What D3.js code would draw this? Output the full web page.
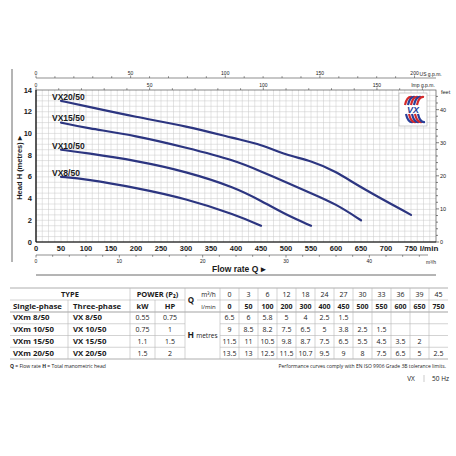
<!DOCTYPE html>
<html>
  <head>
    <meta http-equiv="Content-Type" content="text/html; charset=utf-8" />
    <style>
    body { margin: 0; background: #fff; }
    svg text { font-family: "Liberation Sans Narrow", "Liberation Sans", sans-serif; fill: #1a1a1a; }
    .tbl text { font-family: "Open Sans", "Liberation Sans", sans-serif; }
    </style>
  </head>
  <body>
    <div id="chart"></div>
    <script src="https://d3js.org/d3.v7.min.js"></script>
    <script>

// flow points, l/min and m3/h
const flowLmin = [0, 50, 100, 200, 300, 400, 450, 500, 550, 600, 650, 750];
const flowM3h = [0, 3, 6, 12, 18, 24, 27, 30, 33, 36, 39, 45];

// pump models
const models = ["VX8/50", "VX10/50", "VX15/50", "VX20/50"];
const singlePhase = ["VXm 8/50", "VXm 10/50", "VXm 15/50", "VXm 20/50"];
const threePhase = ["VX 8/50", "VX 10/50", "VX 15/50", "VX 20/50"];
const powerKW = ["0.55", "0.75", "1.1", "1.5"];
const powerHP = ["0.75", "1", "1.5", "2"];

// head in metres, one array per model (null = not reached)
const head8 = [6.5, 6, 5.8, 5, 4, 2.5, 1.5, null, null, null, null, null];
const head10 = [9, 8.5, 8.2, 7.5, 6.5, 5, 3.8, 2.5, 1.5, null, null, null];
const head15 = [11.5, 11, 10.5, 9.8, 8.7, 7.5, 6.5, 5.5, 4.5, 3.5, 2, null];
const head20 = [13.5, 13, 12.5, 11.5, 10.7, 9.5, 9, 8, 7.5, 6.5, 5, 2.5];
const heads = [head8, head10, head15, head20];

// axis ticks
const lminTicks = d3.range(0, 751, 50);
const headTicks = d3.range(0, 15, 2);
const feetTicks = [0, 10, 20, 30, 40];
const usTicks = [0, 50, 100, 150, 200];
const impTicks = [0, 50, 100, 150];
const m3Ticks = [0, 10, 20, 30, 40];

const width = 456, height = 456;
const L = 36, R = 436, T = 90, B = 242;
const navy = "#2c3580";

const svg = d3.select("#chart").append("svg")
    .attr("width", width)
    .attr("height", height);

const x = d3.scaleLinear().domain([0, 800]).range([L, R]);
const y = d3.scaleLinear().domain([0, 14]).range([B, T]);
const yFt = d3.scaleLinear().domain([0, 14 * 3.2808]).range([B, T]);
const xUS = d3.scaleLinear().domain([0, 800 / 3.7854]).range([L, R]);
const xImp = d3.scaleLinear().domain([0, 800 / 4.546]).range([L, R]);
const xM3 = d3.scaleLinear().domain([0, 48]).range([L, R]);

// grid
const grid = svg.append("g").attr("stroke", "#c8c8c8").attr("stroke-width", 0.5);
grid.selectAll(".gv").data(d3.range(12.5, 800, 12.5)).enter().append("line")
    .attr("x1", d => x(d)).attr("x2", d => x(d)).attr("y1", T).attr("y2", B);
grid.selectAll(".gh").data(d3.range(0.5, 14, 0.5)).enter().append("line")
    .attr("x1", L).attr("x2", R).attr("y1", d => y(d)).attr("y2", d => y(d));

// frame
svg.append("rect").attr("x", L).attr("y", T).attr("width", R - L).attr("height", B - T)
    .attr("fill", "none").attr("stroke", "#555").attr("stroke-width", 0.7);
svg.append("line").attr("x1", L).attr("x2", L).attr("y1", T).attr("y2", B)
    .attr("stroke", "#111").attr("stroke-width", 1.2);
svg.append("line").attr("x1", L).attr("x2", R).attr("y1", B).attr("y2", B)
    .attr("stroke", "#111").attr("stroke-width", 1.2);
svg.append("line").attr("x1", 12).attr("x2", 12).attr("y1", 69).attr("y2", 262)
    .attr("stroke", "#444").attr("stroke-width", 0.8);
svg.append("line").attr("x1", L).attr("x2", R).attr("y1", 275).attr("y2", 275)
    .attr("stroke", "#444").attr("stroke-width", 0.8);

// bottom l/min labels
svg.append("g").selectAll("text").data(lminTicks).enter().append("text")
    .attr("x", d => x(d)).attr("y", 250.5)
    .attr("text-anchor", "middle").attr("font-size", 7.5).attr("font-weight", "bold")
    .text(d => d);
svg.append("text").attr("x", 429).attr("y", 250.5).attr("text-anchor", "middle")
    .attr("font-size", 8).attr("font-weight", "bold").text("l/min");

// left head labels
svg.append("g").selectAll("text").data(headTicks).enter().append("text")
    .attr("x", 32).attr("y", d => y(d) + 2.6)
    .attr("text-anchor", "end").attr("font-size", 7.5).attr("font-weight", "bold")
    .text(d => d);
svg.append("text").attr("transform", "translate(22,168) rotate(-90)")
    .attr("text-anchor", "middle").attr("font-size", 7.5).attr("font-weight", "bold")
    .attr("font-family", "Open Sans, sans-serif")
    .text("Head H (metres) \u25B8");

// right feet axis
const ft = svg.append("g").attr("stroke", "#333").attr("stroke-width", 0.6);
ft.selectAll("line").data(d3.range(0, 46, 2)).enter().append("line")
    .attr("x1", R).attr("x2", d => R + (d % 10 === 0 ? 3 : 2))
    .attr("y1", d => yFt(d)).attr("y2", d => yFt(d));
svg.append("g").selectAll("text").data(feetTicks).enter().append("text")
    .attr("x", R + 4).attr("y", d => yFt(d) + 2)
    .attr("font-size", 5.5).text(d => d);
svg.append("text").attr("x", 441).attr("y", 94).attr("font-size", 5.5).text("feet");

// top US g.p.m. axis
const usY = 78;
svg.append("line").attr("x1", L).attr("x2", R).attr("y1", usY).attr("y2", usY)
    .attr("stroke", "#444").attr("stroke-width", 0.6);
svg.append("g").attr("stroke", "#444").attr("stroke-width", 0.6)
  .selectAll("line").data(d3.range(0, 201, 10)).enter().append("line")
    .attr("x1", d => xUS(d)).attr("x2", d => xUS(d))
    .attr("y1", usY).attr("y2", d => usY - (d % 50 === 0 ? 2.5 : 1.8));
svg.append("g").selectAll("text").data(usTicks).enter().append("text")
    .attr("x", d => xUS(d)).attr("y", 74.5).attr("text-anchor", "middle")
    .attr("font-size", 5).text(d => d);
svg.append("text").attr("x", xUS(200) + 5).attr("y", 75.5)
    .attr("font-size", 5).text("US g.p.m.");

// top Imp g.p.m. axis (on plot top)
svg.append("g").attr("stroke", "#444").attr("stroke-width", 0.6)
  .selectAll("line").data(d3.range(0, 171, 10)).enter().append("line")
    .attr("x1", d => xImp(d)).attr("x2", d => xImp(d))
    .attr("y1", T).attr("y2", d => T - (d % 50 === 0 ? 2.5 : 1.8));
svg.append("g").selectAll("text").data(impTicks).enter().append("text")
    .attr("x", d => xImp(d)).attr("y", 86.5).attr("text-anchor", "middle")
    .attr("font-size", 5).text(d => d);
svg.append("text").attr("x", 423).attr("y", 86.5).attr("text-anchor", "middle")
    .attr("font-size", 5).text("Imp g.p.m.");

// bottom m3/h axis
const m3Y = 255;
svg.append("line").attr("x1", L).attr("x2", R - 8).attr("y1", m3Y).attr("y2", m3Y)
    .attr("stroke", "#444").attr("stroke-width", 0.6);
svg.append("g").attr("stroke", "#444").attr("stroke-width", 0.6)
  .selectAll("line").data(d3.range(0, 47, 2)).enter().append("line")
    .attr("x1", d => xM3(d)).attr("x2", d => xM3(d))
    .attr("y1", m3Y).attr("y2", d => m3Y + (d % 10 === 0 ? 2.5 : 1.8));
svg.append("g").selectAll("text").data(m3Ticks).enter().append("text")
    .attr("x", d => xM3(d)).attr("y", 263).attr("text-anchor", "middle")
    .attr("font-size", 5).text(d => d);
svg.append("text").attr("x", 431).attr("y", 264).attr("text-anchor", "middle")
    .attr("font-size", 5).text("m\u00B3/h");
svg.append("text").attr("x", 212).attr("y", 272)
    .attr("font-size", 8.5).attr("font-weight", "bold")
    .attr("font-family", "Open Sans, sans-serif")
    .text("Flow rate Q \u25B8");

// curves
const line = d3.line()
    .x(d => x(d[0])).y(d => y(d[1]))
    .curve(d3.curveBasis);

heads.forEach(function(h, i) {
  const pts = flowLmin.map((q, j) => [q, h[j]]).slice(1).filter(d => d[1] !== null);
  svg.append("path").datum(pts)
    .attr("d", line)
    .attr("fill", "none")
    .attr("stroke", navy)
    .attr("stroke-width", 2.2)
    .attr("stroke-linecap", "round");
  svg.append("text").attr("x", 52).attr("y", y(pts[0][1]) - 1.2)
    .attr("font-size", 8.5).attr("font-weight", "bold")
    .text(models[i]);
});

// logo box
const logo = svg.append("g").attr("transform", "translate(399,93)");
logo.append("rect").attr("width", 28).attr("height", 33)
    .attr("fill", "#fff").attr("stroke", "#aaa").attr("stroke-width", 0.6);
[["#d42a2a", 0], ["#2a3f98", 1], ["#d42a2a", 2], ["#2a3f98", 3], ["#d42a2a", 4]].forEach(function(c) {
  const o = c[1] * 3;
  logo.append("path")
    .attr("d", `M${6 + o},12 Q${8 + o},3 ${13 + o},4`)
    .attr("fill", "none").attr("stroke", c[0]).attr("stroke-width", 2.2);
  logo.append("path")
    .attr("d", `M${7 + o},21 Q${9 + o},30 ${14 + o},29`)
    .attr("fill", "none").attr("stroke", c[0] === "#d42a2a" ? "#2a3f98" : "#d42a2a").attr("stroke-width", 2.2);
});
logo.append("text").attr("x", 14).attr("y", 20).attr("text-anchor", "middle")
    .attr("font-size", 9).attr("font-weight", "bold").attr("font-style", "italic")
    .style("fill", "#2a3f98").text("VX");

// table
const tbl = svg.append("g").attr("class", "tbl");
const colX = [10, 68, 130, 155, 185, 220];
const valW = 19;
const rowY = [288, 300, 312, 323.75, 335.5, 347.25, 359];
const tR = colX[5] + valW * flowLmin.length;
const gray = "#b5b5b5";

function hl(x1, x2, yy, w, c) {
  tbl.append("line").attr("x1", x1).attr("x2", x2).attr("y1", yy).attr("y2", yy)
    .attr("stroke", c || gray).attr("stroke-width", w || 0.6);
}
function vl(xx, y1, y2) {
  tbl.append("line").attr("x1", xx).attr("x2", xx).attr("y1", y1).attr("y2", y2)
    .attr("stroke", gray).attr("stroke-width", 0.6);
}
function tx(xx, yy, s, size, bold, anchor) {
  return tbl.append("text").attr("x", xx).attr("y", yy)
    .attr("text-anchor", anchor || "middle")
    .attr("font-size", size).attr("font-weight", bold ? "bold" : "normal")
    .text(s);
}

hl(colX[0], tR, rowY[0], 0.8, "#999");
hl(colX[0], colX[4], rowY[1]);
hl(197, tR, rowY[1]);
hl(colX[0], tR, rowY[2], 0.9, "#999");
hl(colX[0], colX[4], rowY[3]); hl(colX[5], tR, rowY[3]);
hl(colX[0], colX[4], rowY[4]); hl(colX[5], tR, rowY[4]);
hl(colX[0], colX[4], rowY[5]); hl(colX[5], tR, rowY[5]);
hl(colX[0], tR, rowY[6], 0.8, "#999");
vl(colX[1], rowY[1], rowY[6]);
vl(colX[2], rowY[0], rowY[6]);
vl(colX[3], rowY[1], rowY[6]);
vl(colX[4], rowY[0], rowY[6]);
vl(colX[5], rowY[0], rowY[6]);
for (let j = 1; j < flowLmin.length; j++) vl(colX[5] + valW * j, rowY[0], rowY[6]);

const mid = (a, b) => (a + b) / 2 + 2.6;
tx(70, mid(rowY[0], rowY[1]), "TYPE", 7.5, true);
tx(157.5, mid(rowY[0], rowY[1]), "POWER (P\u2082)", 7.5, true);
tx(13, mid(rowY[1], rowY[2]), "Single-phase", 7.8, true, "start");
tx(73, mid(rowY[1], rowY[2]), "Three-phase", 7.8, true, "start");
tx(142.5, mid(rowY[1], rowY[2]), "kW", 7.5, true);
tx(170, mid(rowY[1], rowY[2]), "HP", 7.5, true);
tx(191, mid(rowY[0], rowY[2]), "Q", 8, true);
tx(208.5, mid(rowY[0], rowY[1]), "m\u00B3/h", 6.5, false);
tx(208.5, mid(rowY[1], rowY[2]), "l/min", 6, false);
const hCell = tbl.append("text").attr("x", 202.5).attr("y", mid(rowY[2], rowY[6]))
    .attr("text-anchor", "middle");
hCell.append("tspan").attr("font-size", 8.5).attr("font-weight", "bold").text("H ");
hCell.append("tspan").attr("font-size", 6.5).text("metres");

flowM3h.forEach(function(v, j) {
  tx(colX[5] + valW * (j + 0.5), mid(rowY[0], rowY[1]), v, 7, false);
});
flowLmin.forEach(function(v, j) {
  tx(colX[5] + valW * (j + 0.5), mid(rowY[1], rowY[2]), v, 7, true);
});
models.forEach(function(m, i) {
  const yy = mid(rowY[i + 2], rowY[i + 3]);
  tx(13, yy, singlePhase[i], 7.8, true, "start");
  tx(73, yy, threePhase[i], 7.8, true, "start");
  tx(142.5, yy, powerKW[i], 7, false);
  tx(170, yy, powerHP[i], 7, false);
  heads[i].forEach(function(h, j) {
    if (h !== null) tx(colX[5] + valW * (j + 0.5), yy, h, 7, false);
  });
});

// notes
const note = tbl.append("text").attr("x", 10).attr("y", 368).attr("font-size", 5);
note.append("tspan").attr("font-weight", "bold").text("Q");
note.append("tspan").text(" = Flow rate   ");
note.append("tspan").attr("font-weight", "bold").text("H");
note.append("tspan").text(" = Total manometric head");
tx(446, 368, "Performance curves comply with EN ISO 9906 Grade 3B tolerance limits.", 5, false, "end");
tx(411, 381, "VX", 6.5, false);
tbl.append("line").attr("x1", 424).attr("x2", 424).attr("y1", 375).attr("y2", 382)
    .attr("stroke", "#aaa").attr("stroke-width", 0.6);
tx(449, 381, "50 Hz", 6.5, false, "end");

    </script>
  </body>
</html>
